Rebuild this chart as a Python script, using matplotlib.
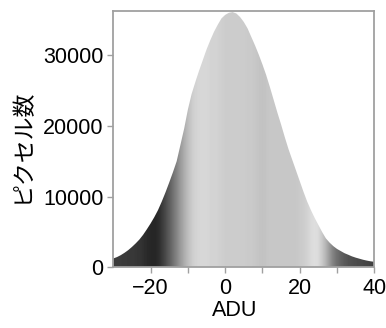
import matplotlib
matplotlib.use("Agg")
import matplotlib.pyplot as plt
import numpy as np

plt.rcParams['font.family'] = ['Liberation Sans', 'Noto Sans CJK JP', 'DejaVu Sans']

# Pixel-count histogram read at each ADU value (-30 .. 40)
adu = list(range(-30, 41))
counts = [
    1250, 1450, 1720, 2050, 2430, 2880, 3380, 3930, 4600, 5380,        # -30..-21
    6200, 7100, 8100, 9300, 10600, 12000, 13450, 15000, 17300, 19600,  # -20..-11
    22300, 24500, 26200, 27800, 29300, 30800, 32100, 33300, 34300, 35200,  # -10..-1
    35700, 36000, 36100, 35900, 35400, 34700, 33800, 32600, 31400, 30100,  # 0..9
    28700, 27200, 25500, 23700, 21900, 20200, 18400, 16700, 15200, 13700,  # 10..19
    12200, 10700, 9300, 8100, 7000, 6000, 5000, 4100, 3500, 3000,      # 20..29
    2600, 2300, 2000, 1780, 1550, 1370, 1220, 1070, 950, 850,          # 30..39
    780,                                                               # 40
]
# gray level of the fill at each ADU value
grays = [
    0.24, 0.24, 0.23, 0.23, 0.22, 0.22, 0.21, 0.20, 0.18, 0.16,
    0.15, 0.15, 0.18, 0.24, 0.31, 0.38, 0.46, 0.54, 0.62, 0.69,
    0.75, 0.80, 0.83, 0.84, 0.84, 0.84, 0.83, 0.83, 0.82, 0.81,
    0.80, 0.80, 0.80, 0.80, 0.80, 0.80, 0.79, 0.79, 0.78, 0.77,
    0.76, 0.77, 0.78, 0.78, 0.78, 0.78, 0.78, 0.78, 0.78, 0.78,
    0.79, 0.80, 0.82, 0.85, 0.87, 0.86, 0.80, 0.72, 0.62, 0.52,
    0.45, 0.40, 0.36, 0.33, 0.31, 0.30, 0.29, 0.28, 0.27, 0.26,
    0.25,
]
x_major = [-20, 0, 20, 40]
x_minor = [-10, 10, 30]
y_ticks = [0, 10000, 20000, 30000]
x_tick_labels = ['\u221220', '0', '20', '40']

fig = plt.figure(figsize=(3.86, 3.28), dpi=100)
ax = fig.add_axes([0.2935, 0.185, 0.6762, 0.7825])

xmin, xmax, ymax = -30, 40, 36300
ax.set_xlim(xmin, xmax)
ax.set_ylim(0, ymax)

# histogram outline
poly = ax.fill_between(adu, counts, 0, color='none', linewidth=0)
# grey gradient fill, clipped to the histogram shape
im = ax.imshow(np.array(grays)[None, :], cmap='gray', vmin=0, vmax=1,
               extent=[xmin, xmax, 0, ymax], aspect='auto',
               interpolation='bilinear', origin='lower')
im.set_clip_path(poly.get_paths()[0], transform=ax.transData)

ax.set_xticks(x_major)
ax.set_xticks(x_minor, minor=True)
ax.set_yticks(y_ticks)
ax.set_xticklabels(x_tick_labels)
ax.set_yticklabels([str(v) for v in y_ticks])

spine_c = '#a0a0a0'
for s in ax.spines.values():
    s.set_color(spine_c)
    s.set_linewidth(1.3)
ax.tick_params(axis='both', which='both', direction='out', length=4,
               width=1.0, color=spine_c, labelsize=15.5)
ax.tick_params(axis='x', which='both', pad=4)
ax.tick_params(axis='y', which='both', pad=3)
ax.tick_params(axis='both', which='minor', labelbottom=False)

ax.set_xlabel('ADU', fontsize=15.5)
ax.xaxis.label.set_va('center')
ax.xaxis.set_label_coords(0.466, -0.168)
ax.set_ylabel('ピクセル数', fontsize=16.5, family=['Noto Sans CJK JP', 'DejaVu Sans'])
ax.yaxis.label.set_va('center')
ax.yaxis.set_label_coords(-0.35, 0.475)

fig.savefig('out.png', dpi=100)
